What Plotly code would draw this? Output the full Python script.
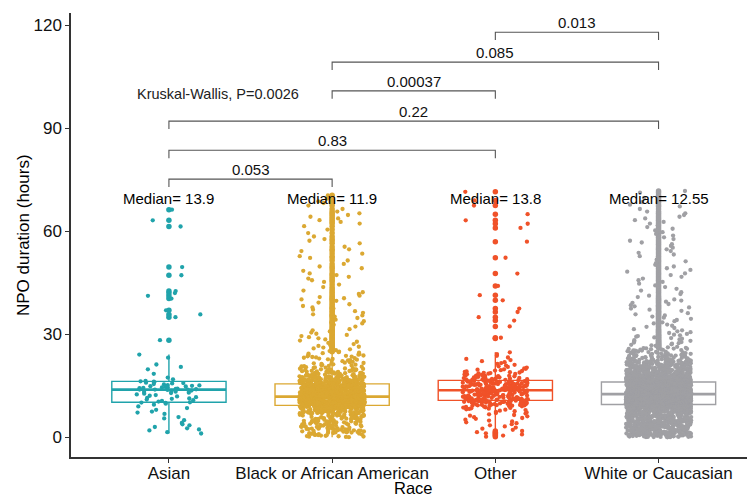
import numpy as np
import plotly.graph_objects as go

# ---------------- data ----------------
CATEGORIES = ["Asian", "Black or African American", "Other", "White or Caucasian"]
COLORS = ["#20A3AB", "#DBA832", "#F05229", "#A0A0A4"]

# Asian: individual values (hours)
ASIAN_VALUES = [66.3, 63.2, 61.4, 49.6, 47.2, 42.6, 42.0, 41.2, 40.4, 37.0, 35.8, 35.0,
                28.3, 24.1, 23.2, 21.2, 20.5, 19.8, 18.5, 17.4, 16.9, 16.4, 16.3, 16.2,
                16.0, 15.9, 15.8, 15.7, 15.5, 15.4, 15.2, 15.1, 15.0, 14.9, 14.8, 14.7,
                14.6, 14.5, 14.4, 14.3, 14.2, 14.1, 14.0, 13.9, 13.9, 13.9, 13.8, 13.6,
                13.5, 13.3, 13.2, 13.0, 12.9, 12.7, 12.5, 12.3, 12.1, 11.9, 11.7, 11.5,
                11.3, 11.2, 11.0, 10.8, 10.6, 10.4, 10.2, 10.1, 10.0, 9.8, 9.5, 9.0,
                8.5, 8.0, 7.5, 7.2, 6.8, 5.9, 5.5, 5.0, 4.2, 3.8, 3.5, 3.0, 2.6, 2.3,
                2.0, 1.5, 1.1]

# Counts per 1-hour bin, starting at 0 h (bin k covers k..k+1 h)
BLACK_BIN_COUNTS = [15, 18, 21, 21, 21, 22, 27, 45, 82, 98, 120, 135, 95, 80, 70, 63, 55, 38,
                    24, 18, 13, 10, 9, 9, 7,
                    4, 4, 3, 3, 3, 3, 3, 2, 3, 2, 3, 2, 3, 2, 2, 3, 2, 2, 2,
                    1, 2, 2, 2, 1, 2, 1, 1, 2, 1, 2, 1, 1, 2, 1, 1, 1, 1, 2, 2, 2, 2,
                    1, 1, 2, 1, 1]
OTHER_BIN_COUNTS = [3, 3, 3, 3, 4, 4, 5, 6, 10, 20, 32, 26, 30, 30, 30, 30, 26, 18, 12,
                    8, 5, 4, 3, 2, 2]
OTHER_TAIL_VALUES = [28.8, 29.0, 32.3, 34.0, 35.0, 36.5, 37.5, 39.9, 41.4, 44.1, 47.7,
                     52.3, 57.0, 61.0, 62.2, 63.2, 65.0, 67.5, 69.0, 71.5]
WHITE_BIN_COUNTS = [47, 54, 54, 54, 54, 57, 65, 81, 122, 189, 230, 236, 236, 216, 189, 162,
                    162, 115, 81, 61, 47, 38, 30, 24, 20, 16,
                    7, 6, 5, 5, 4,
                    3, 3, 3, 3, 3, 3, 3, 3, 3, 3,
                    2, 2, 2, 2, 2, 2, 2, 2, 2, 2, 2, 2, 2, 2, 2, 2, 2, 2, 2, 2, 2, 2, 2, 2,
                    2, 1, 2, 1, 2, 1, 2]

MEDIAN_LABELS = ["Median= 13.9", "Median= 11.9", "Median= 13.8", "Median= 12.55"]
MEDIAN_LABEL_LEVEL = 69.7

# pairwise comparisons: (group a, group b, p-value label, bracket height)
COMPARISONS = [
    (0, 1, "0.053", 75.2),
    (0, 2, "0.83", 83.6),
    (0, 3, "0.22", 92.1),
    (1, 2, "0.00037", 100.9),
    (1, 3, "0.085", 109.3),
    (2, 3, "0.013", 118.0),
]
KRUSKAL_TEXT = "Kruskal-Wallis, P=0.0026"

Y_TICKS = [0, 30, 60, 90, 120]


def expand_bins(counts):
    out = []
    for k, c in enumerate(counts):
        for j in range(c):
            out.append(k + (j + 0.5) / c)
    return out


GROUP_VALUES = [
    np.array(ASIAN_VALUES, dtype=float),
    np.array(expand_bins(BLACK_BIN_COUNTS), dtype=float),
    np.array(expand_bins(OTHER_BIN_COUNTS) + OTHER_TAIL_VALUES, dtype=float),
    np.array(expand_bins(WHITE_BIN_COUNTS), dtype=float),
]


def jitter(n, g, width=0.2):
    k = np.arange(n)
    h = np.sin(k * 12.9898 + g * 78.233 + 1.0) * 43758.5453
    h = h - np.floor(h)
    return (h * 2 - 1) * width


FONT = "Liberation Sans, Arial, Helvetica, sans-serif"
fig = go.Figure()

# boxes with outliers at center
for g, vals in enumerate(GROUP_VALUES):
    pos = g + 1
    fig.add_trace(go.Box(
        x=np.full(len(vals), pos), y=vals,
        boxpoints="outliers", jitter=0, pointpos=0,
        width=0.7, whiskerwidth=0,
        quartilemethod="inclusive",
        fillcolor="white",
        line=dict(color=COLORS[g], width=1.4),
        marker=dict(color=COLORS[g], size=5.5, line=dict(width=0)),
        showlegend=False, hoverinfo="skip",
    ))

# thicker median line
for g, vals in enumerate(GROUP_VALUES):
    pos = g + 1
    med = float(np.percentile(vals, 50))
    fig.add_trace(go.Scatter(
        x=[pos - 0.35, pos + 0.35], y=[med, med], mode="lines",
        line=dict(color=COLORS[g], width=2.6),
        showlegend=False, hoverinfo="skip",
    ))

# jittered points
for g, vals in enumerate(GROUP_VALUES):
    pos = g + 1
    fig.add_trace(go.Scatter(
        x=pos + jitter(len(vals), g), y=vals, mode="markers",
        marker=dict(color=COLORS[g], size=4.3, line=dict(width=0)),
        showlegend=False, hoverinfo="skip",
    ))

shapes = []
annotations = []
TICK_DROP = 2.3
for a, b, lab, h in COMPARISONS:
    xa, xb = a + 1, b + 1
    shapes.append(dict(
        type="path", xref="x", yref="y",
        path=f"M {xa},{h - TICK_DROP} L {xa},{h} L {xb},{h} L {xb},{h - TICK_DROP}",
        line=dict(color="#555555", width=1.1),
    ))
    annotations.append(dict(
        x=(xa + xb) / 2, y=h, xref="x", yref="y", text=lab, showarrow=False,
        xanchor="center", yanchor="bottom", yshift=-1,
        font=dict(family=FONT, size=15, color="#111111"),
    ))

for g, lab in enumerate(MEDIAN_LABELS):
    annotations.append(dict(
        x=g + 1, y=MEDIAN_LABEL_LEVEL, xref="x", yref="y", text=lab, showarrow=False,
        xanchor="center", yanchor="middle",
        font=dict(family=FONT, size=15, color="#000000"),
    ))

annotations.append(dict(
    x=1.3, y=99.9, xref="x", yref="y", text=KRUSKAL_TEXT, showarrow=False,
    xanchor="center", yanchor="middle",
    font=dict(family=FONT, size=14.5, color="#222222"),
))

# axis titles
annotations.append(dict(
    x=(413.5 - 71) / 676, y=(456.7 - 498) / 444, xref="paper", yref="paper",
    text="Race", showarrow=False, xanchor="center", yanchor="bottom",
    height=19, valign="bottom", borderpad=0,
    font=dict(family=FONT, size=16.5, color="#000000"),
))
annotations.append(dict(
    x=(23 - 71) / 676, y=0.5, xref="paper", yref="paper",
    text="NPO duration (hours)", showarrow=False, textangle=-90,
    xanchor="center", yanchor="middle",
    font=dict(family=FONT, size=17, color="#000000"),
))

fig.update_layout(
    width=747, height=498,
    margin=dict(l=71, r=0, t=13, b=41),
    paper_bgcolor="white", plot_bgcolor="white",
    shapes=shapes, annotations=annotations,
    font=dict(family=FONT, size=16.5, color="#000000"),
    boxmode="overlay",
)
fig.update_xaxes(
    range=[0.4, 4.542], tickvals=[1, 2, 3, 4], ticktext=CATEGORIES,
    showline=True, linecolor="#333333", linewidth=1.5,
    ticks="outside", ticklen=4, tickcolor="#333333", tickwidth=1.2,
    ticklabelstandoff=-4,
    showgrid=False, zeroline=False,
    tickfont=dict(family=FONT, size=17, color="#111111"),
)
fig.update_yaxes(
    range=[-5.74, 123.6], tickvals=Y_TICKS,
    showline=True, linecolor="#333333", linewidth=1.5,
    ticks="outside", ticklen=4, tickcolor="#333333", tickwidth=1.2,
    showgrid=False, zeroline=False,
    tickfont=dict(family=FONT, size=17, color="#111111"),
)

fig.write_html("out.html")
